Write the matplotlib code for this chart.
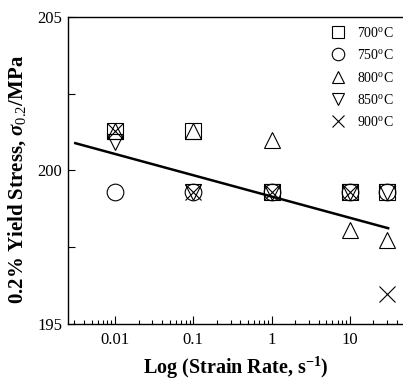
import matplotlib
matplotlib.use('Agg')
import matplotlib.pyplot as plt
from matplotlib.ticker import MultipleLocator, LogLocator, NullFormatter

plt.rcParams['font.family'] = ['Liberation Serif', 'DejaVu Serif']
plt.rcParams['mathtext.fontset'] = 'custom'
plt.rcParams['mathtext.rm'] = 'Liberation Serif'
plt.rcParams['mathtext.it'] = 'Liberation Serif:italic:bold'
plt.rcParams['mathtext.bf'] = 'Liberation Serif:bold'

# 应变速率 (s^-1)
strain_rate = [0.01, 0.1, 1, 10, 30]

# 各温度下的屈服强度 (MPa)
temps = ['700', '750', '800', '850', '900']
markers = ['s', 'o', '^', 'v', 'x']
stress_700 = [201.27, 201.3, 199.3, 199.3, 199.3]
stress_750 = [199.3, 199.3, 199.3, 199.3, 199.3]
stress_800 = [201.27, 201.3, 201.0, 198.07, 197.74]
stress_850 = [200.94, 199.3, 199.3, 199.3, 199.3]
stress_900 = [201.27, 199.3, 199.3, 199.3, 195.97]
stress = [stress_700, stress_750, stress_800, stress_850, stress_900]

# 拟合直线端点
fit_x = [0.0031, 31]
fit_y = [200.89, 198.12]

fig = plt.figure(figsize=(4.03, 3.8), dpi=100)
ax = fig.add_axes([0.1687, 0.1474, 0.8313, 0.8079])

for t, m, s in zip(temps, markers, stress):
    ax.plot(strain_rate, s, linestyle='none', marker=m, markersize=12,
            markerfacecolor='none', markeredgecolor='black', markeredgewidth=0.8,
            color='black', label=t + r'$^{\mathrm{o}}$C')

ax.plot(fit_x, fit_y, color='black', linewidth=1.8)

ax.set_xscale('log')
ax.set_xlim(0.0025, 48)
ax.set_ylim(195, 205)
ax.set_xticks([0.01, 0.1, 1, 10])
ax.set_xticklabels(['0.01', '0.1', '1', '10'])
ax.xaxis.set_minor_locator(LogLocator(base=10, subs=range(2, 10), numticks=20))
ax.xaxis.set_minor_formatter(NullFormatter())
ax.yaxis.set_major_locator(MultipleLocator(5))
ax.yaxis.set_minor_locator(MultipleLocator(2.5))

ax.tick_params(which='both', direction='in', top=False, right=False, labelsize=12)
ax.tick_params(axis='x', which='major', length=6, width=0.8, pad=6)
ax.tick_params(axis='x', which='minor', length=3, width=0.8)
ax.tick_params(axis='y', which='both', length=5, width=0.8, pad=4)
ax.spines['right'].set_visible(False)
for sp in ['left', 'top', 'bottom']:
    ax.spines[sp].set_linewidth(1.0)

ax.set_xlabel(r'Log (Strain Rate, s$\mathbf{^{-1}}$)', fontsize=14.5, fontweight='bold')
ax.set_ylabel(r'0.2% Yield Stress, $\mathit{\sigma_{0.2}}$/MPa', fontsize=15, fontweight='bold')
ax.xaxis.set_label_coords(0.5, -0.1)
ax.yaxis.set_label_coords(-0.12, 0.47)

ax.legend(loc='upper right', frameon=False, fontsize=10, markerscale=0.75,
          handlelength=1.6, handletextpad=0.6, labelspacing=0.6, borderaxespad=0.25)

fig.savefig('out.png', dpi=100)
